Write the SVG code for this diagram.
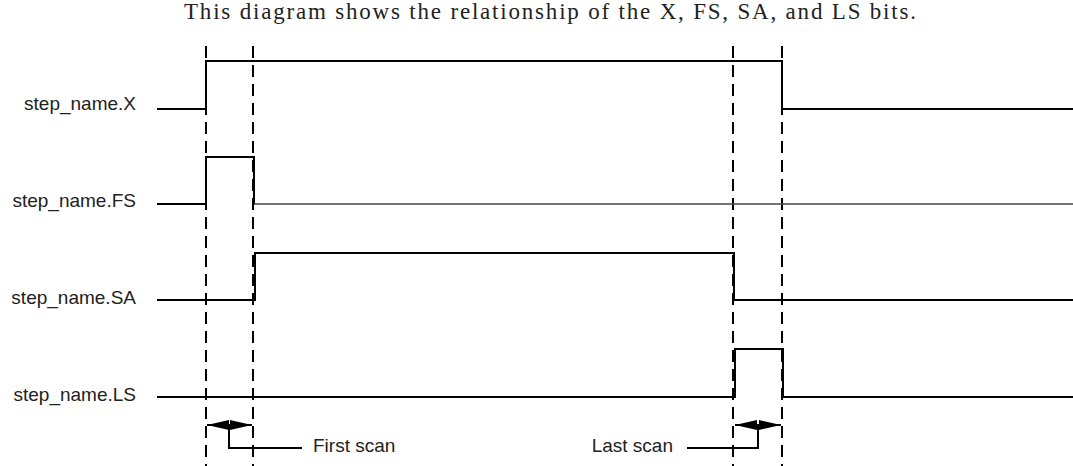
<svg xmlns="http://www.w3.org/2000/svg" width="1073" height="466" viewBox="0 0 1073 466">
  <style>
    .sig { fill: none; stroke: #000; stroke-width: 2; }
    .sig-thin { fill: none; stroke: #444; stroke-width: 1.6; }
    .dash { fill: none; stroke: #000; stroke-width: 2; stroke-dasharray: 12 7; }
    .lead { fill: none; stroke: #000; stroke-width: 2; }
    .lbl { font-family: "Liberation Sans", Arial, sans-serif; font-size: 19px; fill: #222; }
    .title { font-family: "Liberation Serif", "Times New Roman", serif; font-size: 23px; fill: #222; }
  </style>
  <defs>
    <marker id="ah" viewBox="0 0 22 10" refX="22" refY="5" markerWidth="22" markerHeight="10" markerUnits="userSpaceOnUse" orient="auto-start-reverse">
      <path d="M0,0 L22,5 L0,10 z" fill="#000"/>
    </marker>
  </defs>
  <rect width="1073" height="466" fill="#fff"/>

  <text id="title" class="title" x="184" y="19" textLength="732" lengthAdjust="spacing">This diagram shows the relationship of the X, FS, SA, and LS bits.</text>

  <g id="guides">
    <line class="dash" x1="206" y1="46" x2="206" y2="466"/>
    <line class="dash" x1="253" y1="46" x2="253" y2="466"/>
    <line class="dash" x1="733" y1="46" x2="733" y2="466"/>
    <line class="dash" x1="782" y1="46" x2="782" y2="466"/>
  </g>

  <g id="sig-X">
    <text class="lbl" x="136" y="110" text-anchor="end">step_name.X</text>
    <path class="sig" d="M157,109 H206 V61 H782 V109 H1073"/>
  </g>
  <g id="sig-FS">
    <text class="lbl" x="136" y="207" text-anchor="end">step_name.FS</text>
    <path class="sig" d="M157,204 H206 V157 H254 V204"/>
    <path class="sig-thin" d="M254,204 H1073"/>
  </g>
  <g id="sig-SA">
    <text class="lbl" x="136" y="304" text-anchor="end">step_name.SA</text>
    <path class="sig" d="M157,300 H255 V253 H734 V300 H1073"/>
  </g>
  <g id="sig-LS">
    <text class="lbl" x="136" y="401" text-anchor="end">step_name.LS</text>
    <path class="sig" d="M157,397 H735 V349 H783 V397 H1073"/>
  </g>

  <g id="connectors">
    <line class="lead" x1="207" y1="425" x2="252" y2="425" marker-start="url(#ah)" marker-end="url(#ah)"/>
    <path class="lead" d="M229,425 V448 H302"/>
    <line class="lead" x1="735" y1="425" x2="781" y2="425" marker-start="url(#ah)" marker-end="url(#ah)"/>
    <path class="lead" d="M758,425 V448 H687"/>
  </g>

  <g id="first-scan">
    <text class="lbl" x="313" y="452">First scan</text>
  </g>
  <g id="last-scan">
    <text class="lbl" x="673" y="452" text-anchor="end">Last scan</text>
  </g>
</svg>
